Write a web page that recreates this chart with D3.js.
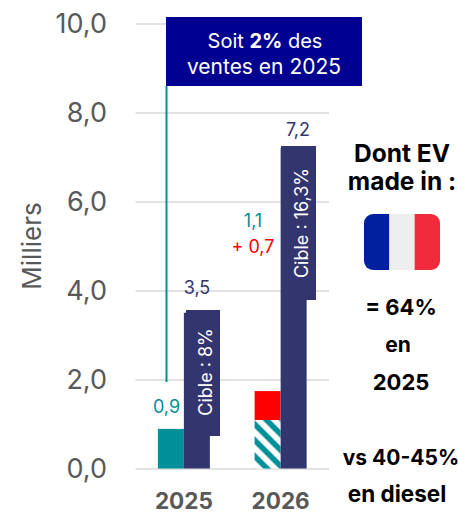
<!DOCTYPE html>
<html>
<head>
<meta charset="utf-8">
<script src="https://cdn.jsdelivr.net/npm/d3@7"></script>
<style>
  html, body { margin: 0; padding: 0; background: #fff; }
  text { font-family: "Inter", sans-serif; }
</style>
</head>
<body>
<div id="chart"></div>
<script>
// Chart data
var years = ["2025", "2026"];
var sales = [0.89, 1.09];
var extra = [0, 0.65];
var targets = [3.5, 7.2];
var targetLabels = ["Cible : 8%", "Cible : 16,3%"];
var yTicks = [0, 2, 4, 6, 8, 10];

var svgWidth = 458;
var svgHeight = 515;

var teal = "#009099";
var navy = "#32356e";
var grey = "#595959";

var svg = d3.select("#chart")
  .append("svg")
  .attr("width", svgWidth)
  .attr("height", svgHeight)
  .style("display", "block");

var xScale = d3.scaleBand().domain(years).range([135.5, 329]);
var yScale = d3.scaleLinear().domain([0, 10]).range([468.5, 23.5]);
var barWidth = 26;

// Hatch for the 2026 sales bar
var defs = svg.append("defs");
var hatch = defs.append("pattern")
  .attr("id", "hatch")
  .attr("patternUnits", "userSpaceOnUse")
  .attr("width", 16)
  .attr("height", 16)
  .attr("patternTransform", "translate(255,424.5)");
hatch.append("rect").attr("width", 16).attr("height", 16).attr("fill", "#fff");
hatch.append("path")
  .attr("d", "M-5,-5 L21,21 M-5,11 L5,21 M11,-5 L21,5")
  .attr("stroke", teal)
  .attr("stroke-width", 5.5);

// Gridlines and y labels
var yAxis = d3.axisLeft(yScale)
  .tickValues(yTicks)
  .tickSize(-(xScale.range()[1] - xScale.range()[0]))
  .tickPadding(28.5)
  .tickFormat(d => d3.format(".1f")(d).replace(".", ","));

var yGroup = svg.append("g")
  .attr("transform", "translate(135.5,0)")
  .call(yAxis);
yGroup.select(".domain").remove();
yGroup.selectAll(".tick line").attr("stroke", "#d9d9d9").attr("stroke-width", 1.5);
yGroup.selectAll(".tick text")
  .attr("fill", grey)
  .attr("font-size", "27px")
  .style("font-family", '"Inter", sans-serif');

svg.append("text")
  .attr("transform", "translate(41,246) rotate(-90)")
  .attr("text-anchor", "middle")
  .attr("fill", grey)
  .attr("font-size", "26px")
  .text("Milliers");

// x labels
var xAxis = d3.axisBottom(xScale).tickSize(0).tickPadding(0);
var xGroup = svg.append("g")
  .attr("transform", "translate(0,493)")
  .call(xAxis);
xGroup.select(".domain").remove();
xGroup.selectAll(".tick text")
  .attr("fill", grey)
  .attr("font-size", "22.5px")
  .attr("font-weight", "bold")
  .style("font-family", '"Inter", sans-serif');

var center = d => xScale(d) + xScale.bandwidth() / 2;

// Sales bars
svg.selectAll(".sales")
  .data(years)
  .enter()
  .append("rect")
  .attr("class", "sales")
  .attr("x", d => center(d) - barWidth)
  .attr("width", barWidth)
  .attr("y", (d, i) => yScale(sales[i]))
  .attr("height", (d, i) => yScale(0) - yScale(sales[i]))
  .attr("fill", (d, i) => i == 0 ? teal : "url(#hatch)");

// Added volume on top of 2026
svg.selectAll(".extra")
  .data(years.filter((d, i) => extra[i] > 0))
  .enter()
  .append("rect")
  .attr("class", "extra")
  .attr("x", d => center(d) - barWidth)
  .attr("width", barWidth)
  .attr("y", d => yScale(sales[years.indexOf(d)] + extra[years.indexOf(d)]))
  .attr("height", d => yScale(0) - yScale(extra[years.indexOf(d)]))
  .attr("fill", "#ff0000");

// Target bars
svg.selectAll(".target")
  .data(years)
  .enter()
  .append("rect")
  .attr("class", "target")
  .attr("x", d => center(d))
  .attr("width", barWidth)
  .attr("y", (d, i) => yScale(targets[i]))
  .attr("height", (d, i) => yScale(0) - yScale(targets[i]))
  .attr("fill", navy);

// Boxes holding the rotated target labels
var boxX = [186, 281];
var boxW = [34, 35];
var boxTop = [310, 146];
var boxBottom = [436, 300];

years.forEach(function(y, i) {
  svg.append("rect")
    .attr("x", boxX[i])
    .attr("y", boxTop[i])
    .attr("width", boxW[i])
    .attr("height", boxBottom[i] - boxTop[i])
    .attr("fill", navy);

  svg.append("text")
    .attr("transform", `translate(${boxX[i] + boxW[i] / 2 + 9},${(boxTop[i] + boxBottom[i]) / 2 - (i == 0 ? 1 : 0)}) rotate(-90)`)
    .attr("text-anchor", "middle")
    .attr("fill", "#fff")
    .attr("font-size", "18px")
    .text(targetLabels[i]);
});

// Value labels
function label(x, y, txt, color) {
  svg.append("text")
    .attr("x", x)
    .attr("y", y)
    .attr("text-anchor", "middle")
    .attr("fill", color)
    .attr("font-size", "18px")
    .text(txt);
}
label(166.5, 413, "0,9", teal);
label(197, 294, "3,5", navy);
label(298, 136, "7,2", navy);
label(253, 227, "1,1", teal);
label(253, 253, "+ 0,7", "#ff0000");

// Callout line and box
svg.append("line")
  .attr("x1", 166.5).attr("x2", 166.5)
  .attr("y1", 86).attr("y2", 382)
  .attr("stroke", teal)
  .attr("stroke-width", 2);

svg.append("rect")
  .attr("x", 166).attr("y", 17)
  .attr("width", 196).attr("height", 69)
  .attr("fill", "#000091");

var callout = svg.append("text")
  .attr("x", 265).attr("y", 48)
  .attr("text-anchor", "middle")
  .attr("fill", "#fff")
  .attr("font-size", "20px");
callout.append("tspan").text("Soit ");
callout.append("tspan").attr("font-weight", "bold").text("2%");
callout.append("tspan").text(" des");
svg.append("text")
  .attr("x", 264).attr("y", 74)
  .attr("text-anchor", "middle")
  .attr("fill", "#fff")
  .attr("font-size", "21px")
  .text("ventes en 2025");

// Right side notes
var notes = [
  ["Dont EV", 402, 162, 24.5],
  ["made in :", 402, 190, 24.5],
  ["= 64%", 401, 315, 22],
  ["en", 398, 352, 21],
  ["2025", 401, 390, 22],
  ["vs 40-45%", 401, 465, 21],
  ["en diesel", 397, 502, 22.5]
];
svg.selectAll(".note")
  .data(notes)
  .enter()
  .append("text")
  .attr("class", "note")
  .attr("x", d => d[1])
  .attr("y", d => d[2])
  .attr("text-anchor", "middle")
  .attr("fill", "#000")
  .attr("font-size", d => d[3] + "px")
  .attr("font-weight", "bold")
  .text(d => d[0]);

// French flag
var flagColors = ["#00209f", "#eeeeee", "#ef2b3d"];
defs.append("clipPath").attr("id", "flagClip")
  .append("rect")
  .attr("x", 364).attr("y", 214)
  .attr("width", 76).attr("height", 56)
  .attr("rx", 9);
svg.append("g")
  .attr("clip-path", "url(#flagClip)")
  .selectAll("rect")
  .data(flagColors)
  .enter()
  .append("rect")
  .attr("x", (d, i) => 364 + i * 25.33)
  .attr("y", 214)
  .attr("width", 25.4)
  .attr("height", 56)
  .attr("fill", d => d);
</script>
</body>
</html>
